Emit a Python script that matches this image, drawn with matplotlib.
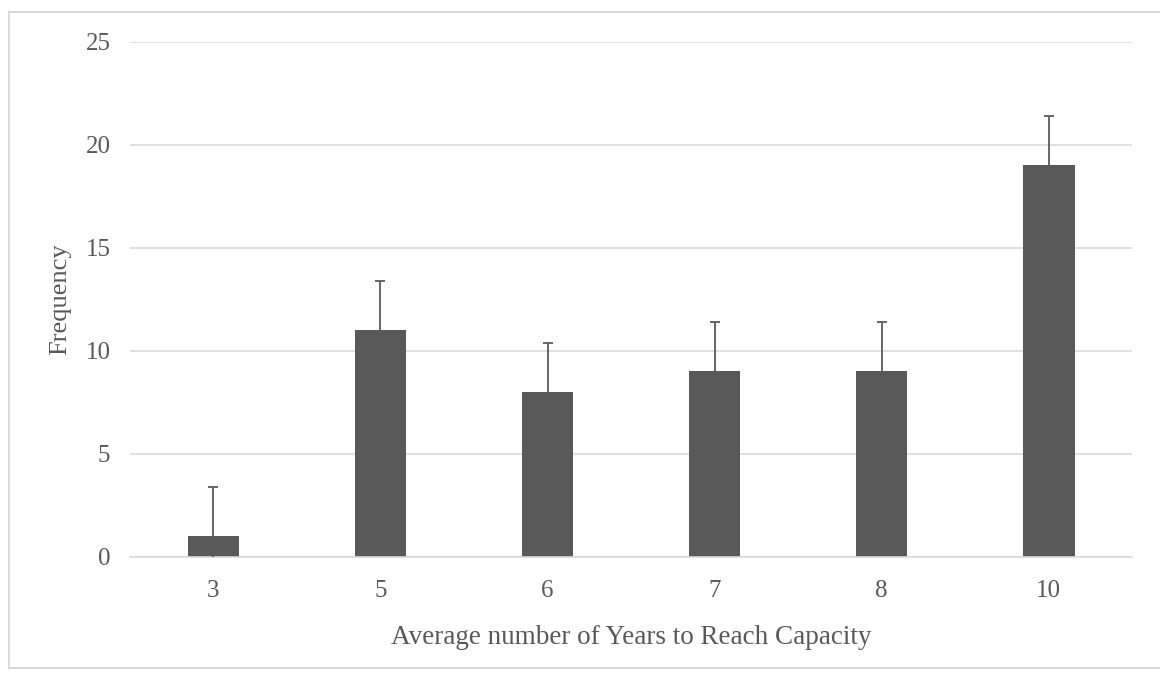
import numpy as np
import matplotlib.pyplot as plt
from matplotlib.lines import Line2D

categories = ['3', '5', '6', '7', '8', '10']
frequency = [1, 11, 8, 9, 9, 19]
errors = [2.4, 2.4, 2.4, 2.4, 2.4, 2.4]
y_ticks = [0, 5, 10, 15, 20, 25]

plt.rcParams['font.family'] = ['Liberation Serif', 'DejaVu Serif']
text_color = '#595959'

fig = plt.figure(figsize=(11.6, 6.75), dpi=100)
ax = fig.add_axes([0.112, 0.175, 0.864, 0.763])

x = np.arange(len(categories))
ax.bar(x, frequency, width=0.31, color='#595959', zorder=2)
ax.errorbar(x, frequency, yerr=errors, fmt='none', ecolor='#5a5a5a',
            elinewidth=1.3, capsize=3.8, capthick=1.3, zorder=3)

ax.set_xlim(-0.5, len(categories) - 0.5)
ax.set_ylim(0, 25)
ax.set_yticks(y_ticks)
ax.set_xticks(x)
ax.set_xticklabels(categories)
ax.grid(axis='y', color='#d9d9d9', linewidth=1.2, zorder=0)
ax.set_axisbelow(True)
for side in ['top', 'right', 'left']:
    ax.spines[side].set_visible(False)
ax.spines['bottom'].set_color('#d9d9d9')
ax.spines['bottom'].set_linewidth(1.2)
ax.tick_params(axis='both', length=0, labelsize=18, colors=text_color)
ax.tick_params(axis='y', pad=14)
ax.tick_params(axis='x', pad=17)

ax.set_xlabel('Average number of Years to Reach Capacity', fontsize=19.5,
              color=text_color, labelpad=16)
ax.set_ylabel('Frequency', fontsize=19, color=text_color, labelpad=10)

# light frame around the chart area
for xs, ys in [([0.008, 0.008], [0.01, 0.982]),
               ([0.008, 1.0], [0.982, 0.982]),
               ([0.008, 1.0], [0.01, 0.01])]:
    fig.add_artist(Line2D(xs, ys, transform=fig.transFigure,
                          color='#d9d9d9', linewidth=1.5))

fig.savefig('out.png', dpi=100)
